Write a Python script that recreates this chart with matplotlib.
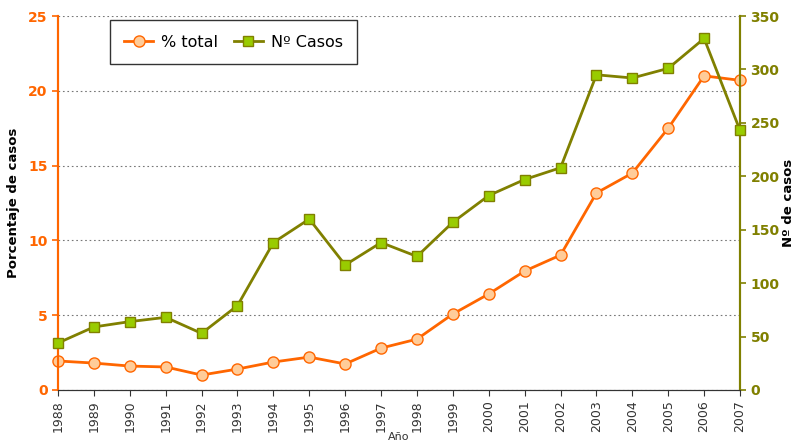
import matplotlib
matplotlib.use("Agg")
import matplotlib.pyplot as plt

# Data
years = [1988, 1989, 1990, 1991, 1992, 1993, 1994, 1995, 1996, 1997,
         1998, 1999, 2000, 2001, 2002, 2003, 2004, 2005, 2006, 2007]
pct_total = [1.94, 1.8, 1.6, 1.54, 1.0, 1.4, 1.87, 2.2, 1.74, 2.8,
             3.4, 5.08, 6.42, 7.95, 9.02, 13.17, 14.5, 17.5, 21.0, 20.7]
n_casos = [44, 59, 64, 68, 53, 79, 138, 160, 117, 138,
           125, 157, 182, 197, 208, 295, 292, 301, 329, 243]

ORANGE = '#FF6600'
PEACH = '#FFCC99'
OLIVE = '#808000'
LIME = '#99CC00'

plt.rcParams['font.family'] = ['DejaVu Sans']

fig = plt.figure(figsize=(7.97, 4.45), dpi=100)
ax = fig.add_axes([0.0728, 0.1236, 0.8557, 0.8404])
ax2 = ax.twinx()

# Percentage series on the left axis
l1, = ax.plot(years, pct_total, color=ORANGE, lw=2, marker='o', ms=8,
              mfc=PEACH, mec=ORANGE, mew=1, label='% total', zorder=3)
ax.set_ylim(0, 25)
ax.set_xlim(1988, 2007)
ax.set_yticks(range(0, 26, 5))
ax.set_xticks(years)
ax.set_xticklabels([str(y) for y in years], rotation=90, fontsize=9, color='#333333')
ax.tick_params(axis='y', colors=ORANGE, labelsize=10, direction='out', length=4, width=1.2)
for lab in ax.get_yticklabels():
    lab.set_fontweight('bold')
ax.tick_params(axis='x', direction='out', length=4, colors='#333333', labelcolor='#333333')
ax.grid(axis='y', color='#777777', linestyle=(0, (1.5, 2.5)), lw=0.8)
ax.set_axisbelow(True)
ax.set_ylabel('Porcentaje de casos', fontsize=9.5, fontweight='bold', labelpad=6)
ax.set_xlabel('Año', fontsize=8, color='#333333', labelpad=0)

# Case counts on the right axis
l2, = ax2.plot(years, n_casos, color=OLIVE, lw=2, marker='s', ms=7,
               mfc=LIME, mec=OLIVE, mew=1, label='Nº Casos', zorder=3)
ax2.set_ylim(0, 350)
ax2.set_yticks(range(0, 351, 50))
ax2.tick_params(axis='y', colors=OLIVE, labelsize=10, direction='out', length=4, width=1.2)
for lab in ax2.get_yticklabels():
    lab.set_fontweight('bold')
ax2.set_ylabel('Nº de casos', fontsize=9.5, fontweight='bold', labelpad=2)

for a in (ax, ax2):
    a.spines['top'].set_visible(False)
    a.spines['left'].set_color(ORANGE)
    a.spines['left'].set_linewidth(1.5)
    a.spines['right'].set_color(OLIVE)
    a.spines['right'].set_linewidth(1.5)
    a.spines['bottom'].set_color('#333333')
    a.patch.set_visible(False)
l1.set_clip_on(False)
l2.set_clip_on(False)

leg = ax2.legend(handles=[l1, l2], loc='upper left', ncol=2, fontsize=11.5,
                 bbox_to_anchor=(0.076, 0.989), borderaxespad=0, frameon=True,
                 fancybox=False, handlelength=1.8, handletextpad=0.5,
                 columnspacing=1.0, borderpad=0.9)
leg.get_frame().set_edgecolor('black')
leg.get_frame().set_linewidth(1)

fig.savefig('out.png', dpi=100)
